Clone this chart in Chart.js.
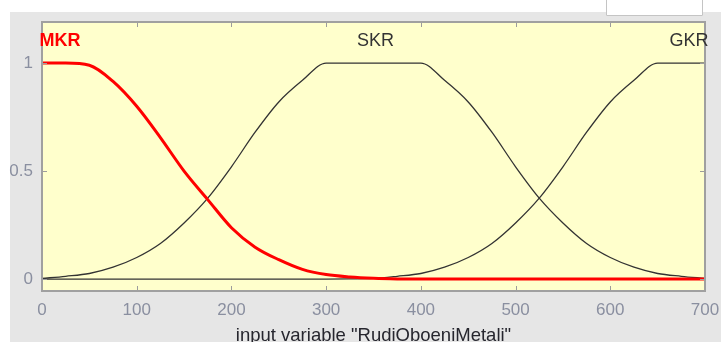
<!DOCTYPE html>
<html>
<head>
<meta charset="utf-8">
<script src="https://cdn.jsdelivr.net/npm/chart.js@4.4.1/dist/chart.umd.min.js"></script>
<style>
  html, body { margin: 0; padding: 0; background: #fff; }
  #wrap { width: 721px; height: 342px; }
</style>
</head>
<body>
<div id="wrap"><canvas id="mfChart" width="721" height="342"></canvas></div>
<script>
// membership function data
const xValues = [0, 25, 50, 75, 100, 125, 150, 175, 200, 225, 250, 275, 300, 325, 350,
                 375, 400, 425, 450, 475, 500, 525, 550, 575, 600, 625, 650, 675, 700];
const mkrValues = [1, 1, 0.99, 0.915, 0.80, 0.655, 0.50, 0.368, 0.238, 0.148, 0.09, 0.045, 0.021, 0.01, 0.004,
                   0.001, 0, 0, 0, 0, 0, 0, 0, 0, 0, 0, 0, 0, 0];
const skrValues = [0.003, 0.013, 0.026, 0.055, 0.10, 0.165, 0.26, 0.375, 0.52, 0.68, 0.82, 0.92, 1, 1, 1,
                   1, 1, 0.92, 0.82, 0.68, 0.52, 0.375, 0.26, 0.165, 0.10, 0.055, 0.026, 0.013, 0.003];
const gkrValues = [0, 0, 0, 0, 0, 0, 0, 0, 0, 0, 0, 0, 0, 0.001, 0.003,
                   0.013, 0.026, 0.055, 0.10, 0.165, 0.26, 0.375, 0.52, 0.68, 0.82, 0.92, 1, 1, 1];

const mfNames = ['MKR', 'SKR', 'GKR'];
const mfLabelX = [19, 352, 683];
const mfLabelY = 1.1;
const xTicks = [0, 100, 200, 300, 400, 500, 600, 700];
const yTicks = [0, 0.5, 1];
const axisTitle = 'input variable "RudiOboeniMetali"';

const FONT = '"Liberation Sans", Arial, sans-serif';
const tickColor = '#8a8fa0';

function points(ys) {
    return xValues.map((x, i) => ({ x: x, y: ys[i] }));
}

// background, frame, inner tick marks and mf names
const matlabLook = {
    id: 'matlabLook',
    beforeDraw(chart) {
        const ctx = chart.ctx;
        const a = chart.chartArea;
        ctx.save();
        ctx.fillStyle = '#ffffff';
        ctx.fillRect(0, 0, chart.width, chart.height);
        ctx.fillStyle = '#e6e6e6';
        ctx.fillRect(10, 12, chart.width - 10, chart.height - 12);
        // little button box top right
        ctx.fillStyle = '#ffffff';
        ctx.fillRect(606, 0, 97, 16);
        ctx.strokeStyle = '#c4c4c4';
        ctx.lineWidth = 1;
        ctx.beginPath();
        ctx.moveTo(606.5, 0);
        ctx.lineTo(606.5, 15.5);
        ctx.lineTo(702.5, 15.5);
        ctx.lineTo(702.5, 0);
        ctx.stroke();
        ctx.fillStyle = '#ffffcc';
        ctx.fillRect(a.left, a.top, a.right - a.left, a.bottom - a.top);
        ctx.restore();
    },
    afterDatasetsDraw(chart) {
        const ctx = chart.ctx;
        const a = chart.chartArea;
        const xs = chart.scales.x;
        const ys = chart.scales.y;
        ctx.save();
        ctx.strokeStyle = '#9c9c9c';
        ctx.lineWidth = 1;
        ctx.beginPath();
        xTicks.forEach(v => {
            if (v === xs.min || v === xs.max) return;
            const px = Math.round(xs.getPixelForValue(v)) + 0.5;
            ctx.moveTo(px, a.bottom);
            ctx.lineTo(px, a.bottom - 5);
            ctx.moveTo(px, a.top);
            ctx.lineTo(px, a.top + 5);
        });
        yTicks.forEach(v => {
            const py = Math.round(ys.getPixelForValue(v)) + 0.5;
            ctx.moveTo(a.left, py);
            ctx.lineTo(a.left + 5, py);
            ctx.moveTo(a.right, py);
            ctx.lineTo(a.right - 5, py);
        });
        ctx.stroke();

        ctx.strokeStyle = '#a0a0a0';
        ctx.lineWidth = 2;
        ctx.strokeRect(a.left, a.top, a.right - a.left, a.bottom - a.top);

        ctx.textAlign = 'center';
        ctx.textBaseline = 'middle';
        mfNames.forEach((name, i) => {
            const px = xs.getPixelForValue(mfLabelX[i]);
            const py = ys.getPixelForValue(mfLabelY);
            if (i === 0) {
                ctx.fillStyle = '#ff0000';
                ctx.font = 'bold 18px ' + FONT;
            } else {
                ctx.fillStyle = '#333333';
                ctx.font = '18px ' + FONT;
            }
            ctx.fillText(name, px, py);
        });
        ctx.restore();
    }
};

new Chart(document.getElementById('mfChart'), {
    type: 'line',
    data: {
        datasets: [
            { label: 'MKR', data: points(mkrValues), borderColor: '#ff0000', borderWidth: 3 },
            { label: 'SKR', data: points(skrValues), borderColor: '#333333', borderWidth: 1.3 },
            { label: 'GKR', data: points(gkrValues), borderColor: '#333333', borderWidth: 1.3 }
        ]
    },
    options: {
        responsive: false,
        animation: false,
        cubicInterpolationMode: 'monotone',
        elements: { point: { radius: 0 } },
        layout: { padding: { left: 0, top: 22, right: 16, bottom: 0 } },
        plugins: {
            legend: { display: false },
            tooltip: { enabled: false }
        },
        scales: {
            x: {
                type: 'linear',
                min: 0,
                max: 700,
                afterBuildTicks: scale => { scale.ticks = xTicks.map(v => ({ value: v })); },
                afterFit: scale => {
                    scale.height = 51;
                    scale.paddingLeft = 0;
                    scale.paddingRight = 0;
                },
                grid: { display: false, drawTicks: false },
                border: { display: false },
                ticks: { color: tickColor, font: { family: FONT, size: 17 }, padding: 9, maxRotation: 0 },
                title: {
                    display: true,
                    text: axisTitle,
                    color: '#26262e',
                    font: { family: FONT, size: 18.5 },
                    padding: { top: 0, bottom: -5 }
                }
            },
            y: {
                min: -0.055,
                max: 1.19,
                afterBuildTicks: scale => { scale.ticks = yTicks.map(v => ({ value: v })); },
                afterFit: scale => {
                    scale.width = 42;
                    scale.paddingTop = 0;
                    scale.paddingBottom = 0;
                },
                grid: { display: false, drawTicks: false },
                border: { display: false },
                ticks: {
                    color: tickColor,
                    font: { family: FONT, size: 17 },
                    padding: 9,
                    callback: value => String(value)
                }
            }
        }
    },
    plugins: [matlabLook]
});
</script>
</body>
</html>
